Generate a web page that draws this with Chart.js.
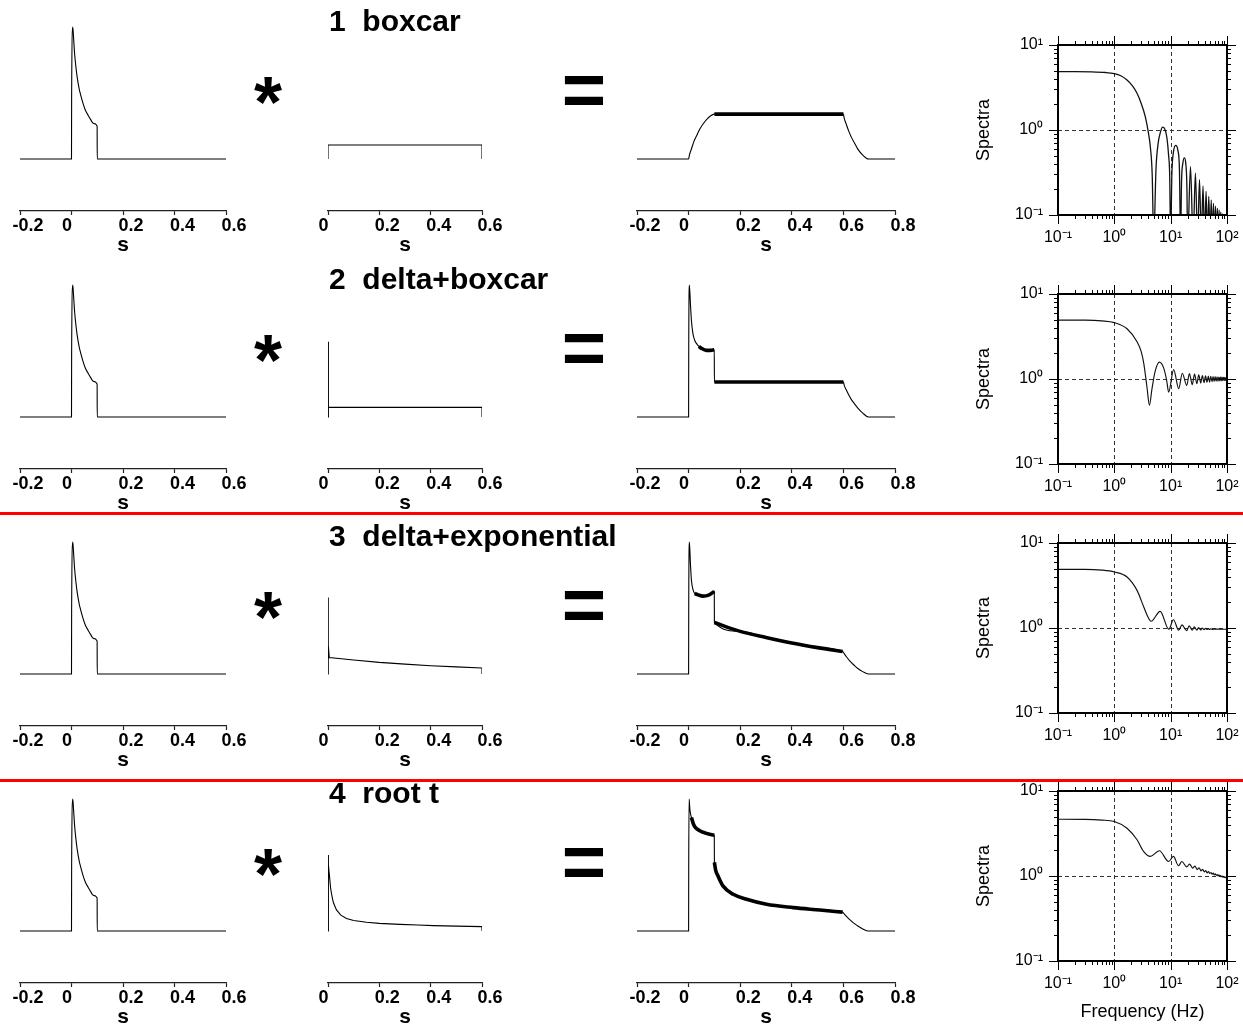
<!DOCTYPE html>
<html>
<head>
<meta charset="utf-8">
<script src="https://cdn.jsdelivr.net/npm/chart.js@4.4.1/dist/chart.umd.min.js"></script>
<style>
  body { margin: 0; background: #fff; width: 1243px; height: 1025px; overflow: hidden; position: relative;
         font-family: "Liberation Sans", Arial, Helvetica, sans-serif; }
  canvas { position: absolute; }
  .ttl { position: absolute; font-weight: bold; font-size: 30px; line-height: 30px; white-space: pre; color: #000; }
  .op { position: absolute; width: 200px; text-align: center; font-weight: bold; line-height: 1; color: #000; }
  .red { position: absolute; left: 0; width: 1243px; height: 3px; background: #f00; z-index: 5; }
</style>
</head>
<body>
<script>
// ---- data ----
var rowTitles = ['1  boxcar', '2  delta+boxcar', '3  delta+exponential', '4  root t'];

var tickSrc = [-0.2, 0, 0.2, 0.4, 0.6];
var tickStf = [0, 0.2, 0.4, 0.6];
var tickRes = [-0.2, 0, 0.2, 0.4, 0.6, 0.8];

// source time function (same in every row)
var srcT = [-0.2, 0, 0.0005, 0.005, 0.008, 0.012, 0.017, 0.022, 0.03, 0.035, 0.045, 0.054, 0.065, 0.074, 0.085, 0.0995, 0.1, 0.6];
var srcV = [0, 0, 0.47, 1.0, 0.92, 0.8, 0.7, 0.62, 0.53, 0.49, 0.42, 0.37, 0.33, 0.3, 0.27, 0.25, 0, 0];

// second column
var boxT = [0, 0, 0.6, 0.6];
var boxV = [0, 0.106, 0.106, 0];
var dboxT = [0, 0, 0.003, 0.6, 0.6];
var dboxV = [0, 0.57, 0.073, 0.073, 0];
var dexpT = [0, 0, 0.002, 0.005, 0.1, 0.2, 0.3, 0.4, 0.5, 0.6, 0.6];
var dexpV = [0, 0.58, 0.22, 0.125, 0.106, 0.088, 0.075, 0.063, 0.054, 0.046, 0];
var rootT = [0, 0, 0.003, 0.006, 0.01, 0.013, 0.018, 0.022, 0.033, 0.05, 0.072, 0.1, 0.15, 0.2, 0.28, 0.35, 0.41, 0.5, 0.6, 0.6];
var rootV = [0, 0.576, 0.5, 0.41, 0.33, 0.29, 0.24, 0.21, 0.16, 0.12, 0.095, 0.08, 0.066, 0.058, 0.05, 0.045, 0.041, 0.037, 0.033, 0];

// third column (convolution results)
var res1T = [-0.2, 0, 0.003, 0.011, 0.02, 0.031, 0.043, 0.056, 0.075, 0.1, 0.6, 0.603, 0.611, 0.62, 0.631, 0.643, 0.656, 0.675, 0.697, 0.8];
var res1V = [0, 0, 0.03, 0.076, 0.13, 0.176, 0.225, 0.265, 0.31, 0.34, 0.34, 0.31, 0.264, 0.215, 0.164, 0.122, 0.075, 0.03, 0, 0];
var res2T = [-0.2, 0, 0.0005, 0.003, 0.007, 0.011, 0.017, 0.024, 0.031, 0.04, 0.05, 0.069, 0.085, 0.0995, 0.1, 0.6, 0.603, 0.611, 0.62, 0.631, 0.643, 0.656, 0.675, 0.697, 0.8];
var res2V = [0, 0, 0.5, 1.0, 0.86, 0.73, 0.63, 0.58, 0.556, 0.535, 0.52, 0.505, 0.505, 0.51, 0.265, 0.265, 0.242, 0.206, 0.17, 0.132, 0.1, 0.068, 0.03, 0, 0];
var res3T = [-0.2, 0, 0.0005, 0.003, 0.007, 0.011, 0.017, 0.024, 0.037, 0.055, 0.08, 0.0995, 0.1, 0.2, 0.3, 0.4, 0.5, 0.597, 0.603, 0.611, 0.62, 0.631, 0.643, 0.656, 0.675, 0.697, 0.8];
var res3V = [0, 0, 0.5, 1.0, 0.84, 0.71, 0.64, 0.61, 0.6, 0.59, 0.6, 0.626, 0.39, 0.323, 0.277, 0.235, 0.2, 0.171, 0.155, 0.133, 0.11, 0.086, 0.064, 0.042, 0.018, 0, 0];
var res4T = [-0.2, 0, 0.0005, 0.002, 0.005, 0.011, 0.017, 0.024, 0.043, 0.069, 0.0995, 0.1, 0.105, 0.114, 0.134, 0.173, 0.225, 0.302, 0.406, 0.509, 0.597, 0.603, 0.611, 0.62, 0.631, 0.643, 0.656, 0.675, 0.697, 0.8];
var res4V = [0, 0, 0.5, 1.0, 0.92, 0.86, 0.82, 0.79, 0.76, 0.74, 0.725, 0.52, 0.46, 0.417, 0.34, 0.278, 0.24, 0.202, 0.177, 0.159, 0.143, 0.13, 0.112, 0.094, 0.075, 0.056, 0.038, 0.016, 0, 0];

// stretches of the result traces that look thick (fast ripple)
var res1Band = [[0.1, 0.6]];
var res2Band = [[0.04, 0.0995], [0.1, 0.6]];
var res3Band = [[0.024, 0.0995], [0.1, 0.597]];
var res4Band = [[0.011, 0.0995], [0.1, 0.597]];

// spectra
var specTicks = [0.1, 1, 10, 100];
var specTickLabels = ['10\u207B\u00B9', '10\u2070', '10\u00B9', '10\u00B2'];
var specYTicks = [0.1, 1, 10];
var specYTickLabels = ['10\u207B\u00B9', '10\u2070', '10\u00B9'];
var gridF = [1, 10];
var gridS = [1];

var spec1F = [0.1, 0.2, 0.4, 0.7, 1.0, 1.3, 1.68, 2.1, 2.53, 3.0, 3.55, 4.0, 4.35, 4.7, 5.0, 5.5, 6.0, 6.6, 7.2, 8.0, 8.6, 9.2, 9.6, 10,
  10.5, 11.2, 12.3, 13.4, 14.3, 15, 15.6, 16.5, 17.5, 18.5, 19.4, 20, 22.5, 25, 27.5, 30, 32.5, 35, 37.5, 40, 42.5, 45,
  47.5, 50, 52.5, 55, 57.5, 60, 62.5, 65, 67.5, 70, 72.5, 75, 77.5, 80, 82.5, 85, 87.5, 90, 92.5, 95, 97.5, 100];
var spec1S = [4.86, 4.86, 4.84, 4.75, 4.6, 4.35, 3.87, 3.3, 2.7, 2.05, 1.43, 0.95, 0.64, 0.3, 0.05, 0.36, 0.7, 0.95, 1.08, 1.0, 0.8, 0.5, 0.3, 0.05,
  0.3, 0.55, 0.66, 0.58, 0.35, 0.05, 0.25, 0.41, 0.47, 0.41, 0.22, 0.05, 0.37, 0.05, 0.31, 0.05, 0.26, 0.05, 0.22, 0.05, 0.19, 0.05,
  0.165, 0.05, 0.15, 0.05, 0.137, 0.05, 0.127, 0.05, 0.12, 0.05, 0.114, 0.05, 0.108, 0.05, 0.104, 0.05, 0.1, 0.05, 0.097, 0.05, 0.094, 0.05];

var spec2F = [0.1, 0.3, 0.6, 1.0, 1.68, 2.53, 3.0, 3.33, 3.8, 4.2, 4.65, 5.3, 6.3, 7.5, 8.5, 9.2, 11.3, 13.9, 16.1, 19.3,
  21.5, 24.2, 26.5, 29.2, 31.5, 34.2, 36.5, 39.2, 41.5, 44.2, 46.5, 49.2, 51.5, 54.2, 56.5, 59.2, 61.5, 64.2, 66.5, 69.2,
  71.5, 74.2, 76.5, 79.2, 81.5, 84.2, 86.5, 89.2, 91.5, 94.2, 96.5, 99.2, 100];
var spec2S = [4.93, 4.92, 4.82, 4.6, 3.9, 2.74, 2.1, 1.53, 0.8, 0.49, 0.76, 1.23, 1.58, 1.35, 0.96, 0.7, 1.29, 0.77, 1.17, 0.84,
  1.16, 0.86, 1.14, 0.88, 1.12, 0.895, 1.1, 0.905, 1.09, 0.915, 1.08, 0.92, 1.075, 0.93, 1.07, 0.935, 1.065, 0.94, 1.06, 0.945,
  1.055, 0.95, 1.05, 0.95, 1.05, 0.955, 1.045, 0.955, 1.045, 0.96, 1.04, 0.96, 0.97];

var spec3F = [0.1, 0.3, 0.6, 1.0, 1.68, 2.53, 3.33, 3.95, 4.5, 6.5, 9.3, 11.2, 13.9, 15.9, 19.2, 21.3, 24.2, 26.3, 29.2,
  31.3, 34.2, 36.3, 39.2, 41.3, 44.2, 46.3, 49.2, 51.3, 54.2, 60, 70, 80, 100];
var spec3S = [4.9, 4.9, 4.8, 4.56, 3.98, 2.77, 1.77, 1.35, 1.2, 1.57, 0.965, 1.25, 0.94, 1.09, 0.93, 1.06, 0.94, 1.03, 0.945,
  1.015, 0.95, 1.0, 0.955, 0.99, 0.96, 0.985, 0.962, 0.98, 0.965, 0.97, 0.97, 0.968, 0.965];

var spec4F = [0.1, 0.3, 0.6, 1.0, 1.68, 2.53, 3.3, 4.35, 6.3, 9.2, 11.2, 13.8, 15.8, 19.3, 21.7, 24.5, 27, 29.5, 32, 34.5,
  37, 39.5, 42, 44.5, 47, 49.5, 52, 54.5, 57, 59.5, 62, 64.5, 67, 69.5, 72, 74.5, 77, 79.5, 82, 84.5, 87, 89.5, 92, 94.5, 97, 100];
var spec4S = [4.65, 4.64, 4.55, 4.37, 3.65, 2.67, 1.95, 1.7, 1.98, 1.48, 1.7, 1.32, 1.48, 1.28, 1.38, 1.24, 1.31, 1.19, 1.25, 1.15,
  1.2, 1.12, 1.16, 1.09, 1.13, 1.07, 1.1, 1.05, 1.08, 1.03, 1.06, 1.015, 1.04, 1.0, 1.03, 0.99, 1.01, 0.98, 1.0, 0.97, 0.99, 0.96, 0.975, 0.955, 0.96, 0.945];

// ---- layout ----
var FONT = '"Liberation Sans", Arial, Helvetica, sans-serif';
var rowAxisY = [211, 469, 726, 983];
var specTop = [45, 294, 543, 791];
var colX = [[20, 226], [328, 482], [637, 895]];
var SPEC_PAD_TOP = 30, SPEC_PAD_RIGHT = 26;

function pts(T, V) {
  return T.map(function (t, i) { return { x: t, y: V[i] }; });
}

function mkCanvas(left, top, w, h) {
  var c = document.createElement('canvas');
  c.width = w; c.height = h;
  c.style.left = left + 'px'; c.style.top = top + 'px';
  c.style.width = w + 'px'; c.style.height = h + 'px';
  document.body.appendChild(c);
  return c;
}

function trace(T, V, smooth) {
  return { data: pts(T, V), borderColor: '#000', borderWidth: 1.1, pointRadius: 0,
           tension: 0, cubicInterpolationMode: smooth ? 'monotone' : 'default' };
}

function bands(T, V, ranges, width) {
  return ranges.map(function (r) {
    var t = [], v = [];
    T.forEach(function (x, i) { if (x >= r[0] && x <= r[1]) { t.push(x); v.push(V[i]); } });
    var d = trace(t, v, true);
    d.borderWidth = width;
    return d;
  });
}

// tick labels sit a little right of their ticks, the "0" a little left
function timeLabel(v) {
  return v === 0 ? '0     ' : String(v);
}

function timeChart(row, col, ticks, datasets) {
  var x0 = colX[col][0], x1 = colX[col][1];
  var ay = rowAxisY[row];
  var cv = mkCanvas(x0 - 20, ay - 192, x1 - x0 + 40, 192 + 47);
  new Chart(cv, {
    type: 'line',
    data: { datasets: datasets },
    options: {
      responsive: false, animation: false, devicePixelRatio: 1, events: [],
      layout: { padding: { left: 20, right: 20, top: 0, bottom: 0 } },
      plugins: { legend: { display: false }, tooltip: { enabled: false } },
      scales: {
        x: {
          type: 'linear', min: ticks[0], max: ticks[ticks.length - 1],
          afterBuildTicks: function (s) { s.ticks = ticks.map(function (v) { return { value: v }; }); },
          afterFit: function (s) { s.height = 47; },
          grid: { display: true, drawOnChartArea: false, drawTicks: true, tickLength: 4, tickColor: '#222', tickWidth: 1.2 },
          border: { display: true, color: '#222', width: 1.2 },
          ticks: { color: '#000', padding: 0, autoSkip: false, maxRotation: 0, labelOffset: 8,
                   font: { family: FONT, size: 18, weight: 'bold' },
                   callback: function (v) { return timeLabel(v); } },
          title: { display: true, text: 's', color: '#000', padding: 0,
                   font: { family: FONT, size: 21, weight: 'bold' } }
        },
        y: { type: 'linear', display: false, min: -0.394, max: 1.061 }
      }
    }
  });
}

var logFrame = {
  id: 'logFrame',
  beforeDatasetsDraw: function (chart) {
    var ctx = chart.ctx, a = chart.chartArea, x = chart.scales.x, y = chart.scales.y;
    ctx.save();
    ctx.strokeStyle = '#333';
    ctx.lineWidth = 1;
    ctx.setLineDash([4, 3]);
    ctx.beginPath();
    gridF.forEach(function (v) {
      var p = Math.round(x.getPixelForValue(v)) + 0.5;
      ctx.moveTo(p, a.top); ctx.lineTo(p, a.bottom);
    });
    gridS.forEach(function (v) {
      var p = Math.round(y.getPixelForValue(v)) + 0.5;
      ctx.moveTo(a.left, p); ctx.lineTo(a.right, p);
    });
    ctx.stroke();
    ctx.restore();
  },
  afterDatasetsDraw: function (chart) {
    var ctx = chart.ctx, a = chart.chartArea, x = chart.scales.x, y = chart.scales.y;
    ctx.save();
    ctx.strokeStyle = '#000';
    ctx.lineWidth = 1;
    ctx.beginPath();
    function xt(v, len) {
      var p = Math.round(x.getPixelForValue(v)) + 0.5;
      ctx.moveTo(p, a.bottom); ctx.lineTo(p, a.bottom + len);
      ctx.moveTo(p, a.top); ctx.lineTo(p, a.top - len);
    }
    function yt(v, len) {
      var p = Math.round(y.getPixelForValue(v)) + 0.5;
      ctx.moveTo(a.left, p); ctx.lineTo(a.left - len, p);
      ctx.moveTo(a.right, p); ctx.lineTo(a.right + len, p);
    }
    [0.1, 1, 10].forEach(function (d) {
      xt(d, 9);
      for (var m = 2; m <= 9; m++) xt(m * d, 4);
    });
    xt(100, 9);
    [0.1, 1].forEach(function (d) {
      yt(d, 9);
      for (var m = 2; m <= 9; m++) yt(m * d, 4);
    });
    yt(10, 9);
    ctx.stroke();
    ctx.lineWidth = 2;
    ctx.strokeRect(a.left, a.top, a.right - a.left, a.bottom - a.top);
    ctx.restore();
  }
};

function specChart(row, F, S) {
  var last = row === 3;
  var xh = last ? 62 : 38;
  var cv = mkCanvas(960, specTop[row] - SPEC_PAD_TOP, 98 + 169 + SPEC_PAD_RIGHT, SPEC_PAD_TOP + 170 + xh);
  new Chart(cv, {
    type: 'line',
    data: { datasets: [{ data: pts(F, S), borderColor: '#111', borderWidth: row === 0 ? 1.3 : 1.15, pointRadius: 0,
                         cubicInterpolationMode: 'monotone' }] },
    options: {
      responsive: false, animation: false, devicePixelRatio: 1, events: [],
      layout: { padding: { left: 0, right: SPEC_PAD_RIGHT, top: SPEC_PAD_TOP, bottom: 0 } },
      plugins: { legend: { display: false }, tooltip: { enabled: false } },
      scales: {
        x: {
          type: 'logarithmic', min: 0.1, max: 100,
          afterBuildTicks: function (s) { s.ticks = specTicks.map(function (v) { return { value: v }; }); },
          afterFit: function (s) { s.height = xh; },
          grid: { display: false, drawTicks: false }, border: { display: false },
          ticks: { color: '#000', padding: 13, autoSkip: false, maxRotation: 0,
                   font: { family: FONT, size: 16 },
                   callback: function (v, i) { return specTickLabels[i]; } },
          title: { display: last, text: 'Frequency (Hz)', color: '#000', padding: 0,
                   font: { family: FONT, size: 18 } }
        },
        y: {
          type: 'logarithmic', min: 0.1, max: 10,
          afterBuildTicks: function (s) { s.ticks = specYTicks.map(function (v) { return { value: v }; }); },
          afterFit: function (s) { s.width = 98; },
          grid: { display: false, drawTicks: false }, border: { display: false },
          ticks: { color: '#000', padding: 15, autoSkip: false,
                   font: { family: FONT, size: 16 },
                   callback: function (v, i) { return specYTickLabels[i]; } },
          title: { display: true, text: 'Spectra', color: '#000', padding: { top: 13, bottom: 0 },
                   font: { family: FONT, size: 18 } }
        }
      }
    },
    plugins: [logFrame]
  });
}

// ---- build ----
var stfs = [[boxT, boxV], [dboxT, dboxV], [dexpT, dexpV], [rootT, rootV]];
var results = [[res1T, res1V, res1Band], [res2T, res2V, res2Band], [res3T, res3V, res3Band], [res4T, res4V, res4Band]];
var spectra = [[spec1F, spec1S], [spec2F, spec2S], [spec3F, spec3S], [spec4F, spec4S]];

for (var r = 0; r < 4; r++) {
  timeChart(r, 0, tickSrc, [trace(srcT, srcV, true)]);
  timeChart(r, 1, tickStf, [trace(stfs[r][0], stfs[r][1], false)]);
  timeChart(r, 2, tickRes, [trace(results[r][0], results[r][1], true)].concat(
    bands(results[r][0], results[r][1], results[r][2], 3.6)));
  specChart(r, spectra[r][0], spectra[r][1]);

  var t = document.createElement('div');
  t.className = 'ttl';
  t.textContent = rowTitles[r];
  t.style.left = '329px';
  t.style.top = (rowAxisY[r] - 179.5 - 25.4) + 'px';
  document.body.appendChild(t);

  var st = document.createElement('div');
  st.className = 'op';
  st.textContent = '*';
  st.style.fontSize = '72px';
  st.style.left = (268 - 100) + 'px';
  st.style.top = (rowAxisY[r] - 118 - 27) + 'px';
  document.body.appendChild(st);

  var eq = document.createElement('div');
  eq.className = 'op';
  eq.textContent = '=';
  eq.style.fontSize = '76px';
  eq.style.left = (584 - 100) + 'px';
  eq.style.top = (rowAxisY[r] - 121 - 38) + 'px';
  document.body.appendChild(eq);
}

[512, 779].forEach(function (y) {
  var d = document.createElement('div');
  d.className = 'red';
  d.style.top = y + 'px';
  document.body.appendChild(d);
});
</script>
</body>
</html>
